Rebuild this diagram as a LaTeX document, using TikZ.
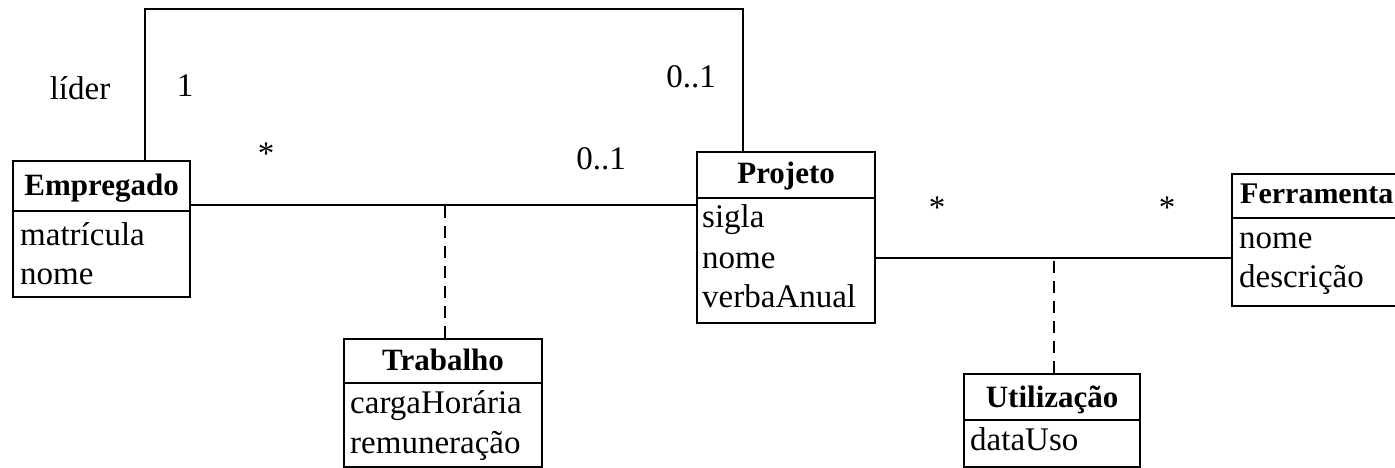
\documentclass[tikz,border=0pt]{standalone}
\usepackage{fontspec}
\setmainfont{Liberation Serif}
\begin{document}
\begin{tikzpicture}[x=1pt,y=-1pt,
  classbox/.style={draw, line width=2.2pt, inner sep=0pt, anchor=north west},
  title/.style={font=\fontsize{31}{36}\selectfont\bfseries, inner sep=0pt, anchor=base},
  attr/.style={font=\fontsize{33}{38}\selectfont, inner sep=0pt, anchor=base west},
  mult/.style={font=\fontsize{33}{38}\selectfont, inner sep=0pt, anchor=base},
  link/.style={line width=2.2pt},
  dlink/.style={line width=2.2pt, dash pattern=on 12pt off 8pt}]
\clip (0,0) rectangle (1395,467);
\fill[white] (0,0) rectangle (1395,467);

% class boxes
\node[classbox, minimum width=177pt, minimum height=136pt] (emp) at (12,160) {};
\node[classbox, minimum width=178pt, minimum height=171pt] (proj) at (696,151) {};
\node[classbox, minimum width=177pt, minimum height=132pt] (ferr) at (1231,173) {};
\node[classbox, minimum width=198pt, minimum height=128pt] (trab) at (343,338) {};
\node[classbox, minimum width=176pt, minimum height=93pt] (util) at (963,373) {};

% compartment dividers
\draw[link] (emp.west |- 0,211) -- (emp.east |- 0,211);
\draw[link] (proj.west |- 0,198) -- (proj.east |- 0,198);
\draw[link] (ferr.west |- 0,218) -- (ferr.east |- 0,218);
\draw[link] (trab.west |- 0,383) -- (trab.east |- 0,383);
\draw[link] (util.west |- 0,420) -- (util.east |- 0,420);

% class names
\node[title] (empT) at (emp.north |- 0,195) {Empregado};
\node[title] (projT) at (proj.north |- 0,183) {Projeto};
\node[title, anchor=base west, font=\fontsize{30}{36}\selectfont\bfseries] (ferrT) at (1240,203) {Ferramenta};
\node[title] (trabT) at (trab.north |- 0,370) {Trabalho};
\node[title] (utilT) at (util.north |- 0,407) {Utilização};

% attributes
\node[attr] (e1) at (20,245) {matrícula};
\node[attr] (e2) at (20,284) {nome};
\node[attr] (p1) at (702,227) {sigla};
\node[attr] (p2) at (702,268) {nome};
\node[attr] (p3) at (702,307) {verbaAnual};
\node[attr] (f1) at (1239,248) {nome};
\node[attr] (f2) at (1239,287) {descrição};
\node[attr] (t1) at (350,413) {cargaHorária};
\node[attr] (t2) at (350,453) {remuneração};
\node[attr] (u1) at (970,450) {dataUso};

% associations
\coordinate (lineA) at (0,205);
\coordinate (lineB) at (0,258);
\draw[link] (emp.east |- lineA) -- (proj.west |- lineA);
\draw[link] (proj.east |- lineB) -- (ferr.west |- lineB);
\draw[link] ([xshift=43.5pt]emp.north) -- ++(0,-151) -| ([xshift=-43pt]proj.north);

% association classes
\draw[dlink] ([xshift=2pt]trab.north) -- ([xshift=2pt]trab.north |- lineA);
\draw[dlink] ([xshift=2pt]util.north) -- ([xshift=2pt]util.north |- lineB);

% role and multiplicities
\node[mult] (role) at (80,99) {líder};
\node[mult] (m1) at (185,96) {1};
\node[mult] (m2) at (691,87) {0..1};
\node[mult] (m3) at (266,164) {*};
\node[mult] (m4) at (601,169) {0..1};
\node[mult] (m5) at (937,218) {*};
\node[mult] (m6) at (1167,218) {*};
\end{tikzpicture}
\end{document}
